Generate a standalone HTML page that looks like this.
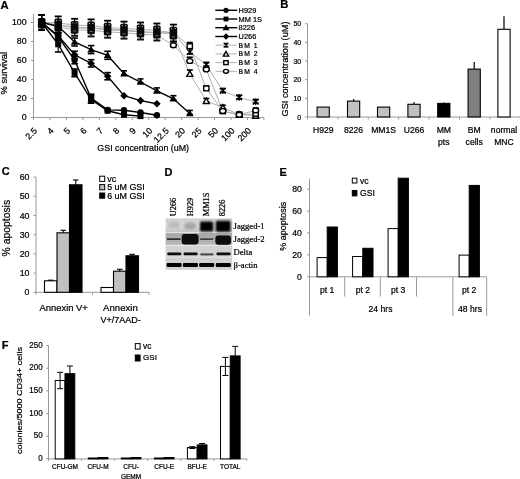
<!DOCTYPE html>
<html><head><meta charset="utf-8"><style>
html,body{margin:0;padding:0;background:#fff;}
svg{display:block;font-family:"Liberation Sans", sans-serif;filter:blur(0.35px);}
text{stroke:#000;stroke-width:0.22px;}
</style></head><body>
<svg width="520" height="479" viewBox="0 0 520 479">
<rect width="520" height="479" fill="#fff"/>
<text x="0.6" y="9.2" font-size="11.2" text-anchor="start" font-weight="bold" fill="#000" >A</text>
<line x1="33.5" y1="14" x2="33.5" y2="117.5" stroke="#999" stroke-width="1" />
<line x1="33.5" y1="117.5" x2="263.9" y2="117.5" stroke="#999" stroke-width="1" />
<line x1="31.0" y1="117.5" x2="33.5" y2="117.5" stroke="#999" stroke-width="1" />
<text x="26.6" y="120.0" font-size="8.8" text-anchor="end" font-weight="normal" fill="#000" >0</text>
<line x1="31.0" y1="98.5" x2="33.5" y2="98.5" stroke="#999" stroke-width="1" />
<text x="26.6" y="101.0" font-size="8.8" text-anchor="end" font-weight="normal" fill="#000" >20</text>
<line x1="31.0" y1="79.5" x2="33.5" y2="79.5" stroke="#999" stroke-width="1" />
<text x="26.6" y="82.0" font-size="8.8" text-anchor="end" font-weight="normal" fill="#000" >40</text>
<line x1="31.0" y1="60.5" x2="33.5" y2="60.5" stroke="#999" stroke-width="1" />
<text x="26.6" y="63.0" font-size="8.8" text-anchor="end" font-weight="normal" fill="#000" >60</text>
<line x1="31.0" y1="41.5" x2="33.5" y2="41.5" stroke="#999" stroke-width="1" />
<text x="26.6" y="44.0" font-size="8.8" text-anchor="end" font-weight="normal" fill="#000" >80</text>
<line x1="31.0" y1="22.5" x2="33.5" y2="22.5" stroke="#999" stroke-width="1" />
<text x="26.6" y="25.0" font-size="8.8" text-anchor="end" font-weight="normal" fill="#000" >100</text>
<line x1="33.5" y1="117.5" x2="33.5" y2="120.0" stroke="#999" stroke-width="1" />
<line x1="49.957142857142856" y1="117.5" x2="49.957142857142856" y2="120.0" stroke="#999" stroke-width="1" />
<line x1="66.41428571428571" y1="117.5" x2="66.41428571428571" y2="120.0" stroke="#999" stroke-width="1" />
<line x1="82.87142857142857" y1="117.5" x2="82.87142857142857" y2="120.0" stroke="#999" stroke-width="1" />
<line x1="99.32857142857142" y1="117.5" x2="99.32857142857142" y2="120.0" stroke="#999" stroke-width="1" />
<line x1="115.78571428571428" y1="117.5" x2="115.78571428571428" y2="120.0" stroke="#999" stroke-width="1" />
<line x1="132.24285714285713" y1="117.5" x2="132.24285714285713" y2="120.0" stroke="#999" stroke-width="1" />
<line x1="148.7" y1="117.5" x2="148.7" y2="120.0" stroke="#999" stroke-width="1" />
<line x1="165.15714285714284" y1="117.5" x2="165.15714285714284" y2="120.0" stroke="#999" stroke-width="1" />
<line x1="181.6142857142857" y1="117.5" x2="181.6142857142857" y2="120.0" stroke="#999" stroke-width="1" />
<line x1="198.07142857142856" y1="117.5" x2="198.07142857142856" y2="120.0" stroke="#999" stroke-width="1" />
<line x1="214.5285714285714" y1="117.5" x2="214.5285714285714" y2="120.0" stroke="#999" stroke-width="1" />
<line x1="230.98571428571427" y1="117.5" x2="230.98571428571427" y2="120.0" stroke="#999" stroke-width="1" />
<line x1="247.44285714285712" y1="117.5" x2="247.44285714285712" y2="120.0" stroke="#999" stroke-width="1" />
<line x1="263.9" y1="117.5" x2="263.9" y2="120.0" stroke="#999" stroke-width="1" />
<text x="0" y="0" font-size="8.8" text-anchor="end" transform="translate(37.7,131.4) rotate(-45)">2.5</text>
<text x="0" y="0" font-size="8.8" text-anchor="end" transform="translate(54.2,131.4) rotate(-45)">4</text>
<text x="0" y="0" font-size="8.8" text-anchor="end" transform="translate(70.6,131.4) rotate(-45)">5</text>
<text x="0" y="0" font-size="8.8" text-anchor="end" transform="translate(87.1,131.4) rotate(-45)">6</text>
<text x="0" y="0" font-size="8.8" text-anchor="end" transform="translate(103.6,131.4) rotate(-45)">7</text>
<text x="0" y="0" font-size="8.8" text-anchor="end" transform="translate(120.0,131.4) rotate(-45)">8</text>
<text x="0" y="0" font-size="8.8" text-anchor="end" transform="translate(136.5,131.4) rotate(-45)">9</text>
<text x="0" y="0" font-size="8.8" text-anchor="end" transform="translate(152.9,131.4) rotate(-45)">10</text>
<text x="0" y="0" font-size="8.8" text-anchor="end" transform="translate(169.4,131.4) rotate(-45)">12.5</text>
<text x="0" y="0" font-size="8.8" text-anchor="end" transform="translate(185.8,131.4) rotate(-45)">20</text>
<text x="0" y="0" font-size="8.8" text-anchor="end" transform="translate(202.3,131.4) rotate(-45)">25</text>
<text x="0" y="0" font-size="8.8" text-anchor="end" transform="translate(218.8,131.4) rotate(-45)">50</text>
<text x="0" y="0" font-size="8.8" text-anchor="end" transform="translate(235.2,131.4) rotate(-45)">100</text>
<text x="0" y="0" font-size="8.8" text-anchor="end" transform="translate(251.7,131.4) rotate(-45)">200</text>
<text x="143.2" y="151.2" font-size="8.9" text-anchor="middle" font-weight="normal" fill="#000" >GSI concentration (uM)</text>
<text x="0" y="0" font-size="9.4" text-anchor="middle" transform="translate(7.0,73.2) rotate(-90)">% survival</text>
<polyline points="41.7,22.5 58.2,22.8 74.6,25.2 91.1,25.6 107.6,27.6 124.0,28.5 140.5,29.4 156.9,30.4 173.4,33.0 189.8,52.0 206.3,64.8 222.8,90.9 239.2,97.5 255.7,101.8" fill="none" stroke="#b0b0b0" stroke-width="1.0"/>
<polyline points="41.7,22.5 58.2,24.8 74.6,27.2 91.1,27.7 107.6,29.1 124.0,30.1 140.5,31.5 156.9,32.5 173.4,33.9 189.8,73.8 206.3,100.9 222.8,107.5 239.2,114.7 255.7,115.6" fill="none" stroke="#b0b0b0" stroke-width="1.0"/>
<polyline points="41.7,22.5 58.2,25.0 74.6,27.9 91.1,28.3 107.6,29.8 124.0,30.7 140.5,32.1 156.9,33.1 173.4,32.5 189.8,46.2 206.3,88.4 222.8,111.3 239.2,114.9 255.7,113.7" fill="none" stroke="#b0b0b0" stroke-width="1.0"/>
<polyline points="41.7,22.5 58.2,27.0 74.6,29.9 91.1,30.4 107.6,31.8 124.0,32.8 140.5,34.2 156.9,35.1 173.4,45.3 189.8,61.0 206.3,69.5 222.8,111.0 239.2,114.7 255.7,110.4" fill="none" stroke="#b0b0b0" stroke-width="1.0"/>
<line x1="58.2" y1="16.4" x2="58.2" y2="33.4" stroke="#000" stroke-width="1.3" />
<line x1="54.7" y1="16.4" x2="61.7" y2="16.4" stroke="#000" stroke-width="1.8" />
<line x1="54.7" y1="33.4" x2="61.7" y2="33.4" stroke="#111" stroke-width="2.0" />
<rect x="54.4" y="18.5" width="7.6" height="12.8" fill="#0a0a0a" stroke="none" stroke-width="1" rx="1.5"/>
<rect x="55.9" y="20.0" width="1.1" height="1.0" fill="#bbb" stroke="none" stroke-width="1" />
<rect x="59.4" y="20.0" width="1.1" height="1.0" fill="#bbb" stroke="none" stroke-width="1" />
<rect x="56.7" y="28.3" width="3.0" height="0.8" fill="#888" stroke="none" stroke-width="1" />
<line x1="74.6" y1="18.8" x2="74.6" y2="35.8" stroke="#000" stroke-width="1.3" />
<line x1="71.1" y1="18.8" x2="78.1" y2="18.8" stroke="#000" stroke-width="1.8" />
<line x1="71.1" y1="35.8" x2="78.1" y2="35.8" stroke="#111" stroke-width="2.0" />
<rect x="70.8" y="20.9" width="7.6" height="12.8" fill="#0a0a0a" stroke="none" stroke-width="1" rx="1.5"/>
<rect x="72.3" y="22.4" width="1.1" height="1.0" fill="#bbb" stroke="none" stroke-width="1" />
<rect x="75.8" y="22.4" width="1.1" height="1.0" fill="#bbb" stroke="none" stroke-width="1" />
<rect x="73.1" y="30.6" width="3.0" height="0.8" fill="#888" stroke="none" stroke-width="1" />
<line x1="91.1" y1="19.4" x2="91.1" y2="36.4" stroke="#000" stroke-width="1.3" />
<line x1="87.6" y1="19.4" x2="94.6" y2="19.4" stroke="#000" stroke-width="1.8" />
<line x1="87.6" y1="36.4" x2="94.6" y2="36.4" stroke="#111" stroke-width="2.0" />
<rect x="87.3" y="21.5" width="7.6" height="12.8" fill="#0a0a0a" stroke="none" stroke-width="1" rx="1.5"/>
<rect x="88.8" y="23.0" width="1.1" height="1.0" fill="#bbb" stroke="none" stroke-width="1" />
<rect x="92.3" y="23.0" width="1.1" height="1.0" fill="#bbb" stroke="none" stroke-width="1" />
<rect x="89.6" y="31.3" width="3.0" height="0.8" fill="#888" stroke="none" stroke-width="1" />
<line x1="107.6" y1="20.7" x2="107.6" y2="37.7" stroke="#000" stroke-width="1.3" />
<line x1="104.1" y1="20.7" x2="111.1" y2="20.7" stroke="#000" stroke-width="1.8" />
<line x1="104.1" y1="37.7" x2="111.1" y2="37.7" stroke="#111" stroke-width="2.0" />
<rect x="103.8" y="22.8" width="7.6" height="12.8" fill="#0a0a0a" stroke="none" stroke-width="1" rx="1.5"/>
<rect x="105.3" y="24.3" width="1.1" height="1.0" fill="#bbb" stroke="none" stroke-width="1" />
<rect x="108.8" y="24.3" width="1.1" height="1.0" fill="#bbb" stroke="none" stroke-width="1" />
<rect x="106.1" y="32.6" width="3.0" height="0.8" fill="#888" stroke="none" stroke-width="1" />
<line x1="124.0" y1="21.6" x2="124.0" y2="38.6" stroke="#000" stroke-width="1.3" />
<line x1="120.5" y1="21.6" x2="127.5" y2="21.6" stroke="#000" stroke-width="1.8" />
<line x1="120.5" y1="38.6" x2="127.5" y2="38.6" stroke="#111" stroke-width="2.0" />
<rect x="120.2" y="23.7" width="7.6" height="12.8" fill="#0a0a0a" stroke="none" stroke-width="1" rx="1.5"/>
<rect x="121.7" y="25.2" width="1.1" height="1.0" fill="#bbb" stroke="none" stroke-width="1" />
<rect x="125.2" y="25.2" width="1.1" height="1.0" fill="#bbb" stroke="none" stroke-width="1" />
<rect x="122.5" y="33.5" width="3.0" height="0.8" fill="#888" stroke="none" stroke-width="1" />
<line x1="140.5" y1="22.5" x2="140.5" y2="39.5" stroke="#000" stroke-width="1.3" />
<line x1="137.0" y1="22.5" x2="144.0" y2="22.5" stroke="#000" stroke-width="1.8" />
<line x1="137.0" y1="39.5" x2="144.0" y2="39.5" stroke="#111" stroke-width="2.0" />
<rect x="136.7" y="24.6" width="7.6" height="12.8" fill="#0a0a0a" stroke="none" stroke-width="1" rx="1.5"/>
<rect x="138.2" y="26.1" width="1.1" height="1.0" fill="#bbb" stroke="none" stroke-width="1" />
<rect x="141.7" y="26.1" width="1.1" height="1.0" fill="#bbb" stroke="none" stroke-width="1" />
<rect x="139.0" y="34.4" width="3.0" height="0.8" fill="#888" stroke="none" stroke-width="1" />
<line x1="156.9" y1="23.5" x2="156.9" y2="40.5" stroke="#000" stroke-width="1.3" />
<line x1="153.4" y1="23.5" x2="160.4" y2="23.5" stroke="#000" stroke-width="1.8" />
<line x1="153.4" y1="40.5" x2="160.4" y2="40.5" stroke="#111" stroke-width="2.0" />
<rect x="153.1" y="25.6" width="7.6" height="12.8" fill="#0a0a0a" stroke="none" stroke-width="1" rx="1.5"/>
<rect x="154.6" y="27.1" width="1.1" height="1.0" fill="#bbb" stroke="none" stroke-width="1" />
<rect x="158.1" y="27.1" width="1.1" height="1.0" fill="#bbb" stroke="none" stroke-width="1" />
<rect x="155.4" y="35.4" width="3.0" height="0.8" fill="#888" stroke="none" stroke-width="1" />
<line x1="173.4" y1="24.6" x2="173.4" y2="41.6" stroke="#000" stroke-width="1.3" />
<line x1="169.9" y1="24.6" x2="176.9" y2="24.6" stroke="#000" stroke-width="1.8" />
<line x1="169.9" y1="41.6" x2="176.9" y2="41.6" stroke="#111" stroke-width="2.0" />
<rect x="169.6" y="26.7" width="7.6" height="12.8" fill="#0a0a0a" stroke="none" stroke-width="1" rx="1.5"/>
<rect x="171.1" y="28.2" width="1.1" height="1.0" fill="#bbb" stroke="none" stroke-width="1" />
<rect x="174.6" y="28.2" width="1.1" height="1.0" fill="#bbb" stroke="none" stroke-width="1" />
<rect x="171.9" y="36.5" width="3.0" height="0.8" fill="#888" stroke="none" stroke-width="1" />
<line x1="189.8" y1="48.2" x2="189.8" y2="53.9" stroke="#000" stroke-width="1.1" />
<line x1="186.8" y1="48.2" x2="192.8" y2="48.2" stroke="#000" stroke-width="1.6" />
<line x1="186.8" y1="53.9" x2="192.8" y2="53.9" stroke="#000" stroke-width="1.6" />
<line x1="206.3" y1="62.4" x2="206.3" y2="66.0" stroke="#000" stroke-width="1.1" />
<line x1="203.3" y1="62.4" x2="209.3" y2="62.4" stroke="#000" stroke-width="1.6" />
<line x1="203.3" y1="66.0" x2="209.3" y2="66.0" stroke="#000" stroke-width="1.6" />
<line x1="222.8" y1="88.5" x2="222.8" y2="92.1" stroke="#000" stroke-width="1.1" />
<line x1="219.8" y1="88.5" x2="225.8" y2="88.5" stroke="#000" stroke-width="1.6" />
<line x1="219.8" y1="92.1" x2="225.8" y2="92.1" stroke="#000" stroke-width="1.6" />
<line x1="239.2" y1="95.2" x2="239.2" y2="98.7" stroke="#000" stroke-width="1.1" />
<line x1="236.2" y1="95.2" x2="242.2" y2="95.2" stroke="#000" stroke-width="1.6" />
<line x1="236.2" y1="98.7" x2="242.2" y2="98.7" stroke="#000" stroke-width="1.6" />
<line x1="255.7" y1="99.5" x2="255.7" y2="103.0" stroke="#000" stroke-width="1.1" />
<line x1="252.7" y1="99.5" x2="258.7" y2="99.5" stroke="#000" stroke-width="1.6" />
<line x1="252.7" y1="103.0" x2="258.7" y2="103.0" stroke="#000" stroke-width="1.6" />
<line x1="189.8" y1="70.0" x2="189.8" y2="75.7" stroke="#000" stroke-width="1.1" />
<line x1="186.8" y1="70.0" x2="192.8" y2="70.0" stroke="#000" stroke-width="1.6" />
<line x1="186.8" y1="75.7" x2="192.8" y2="75.7" stroke="#000" stroke-width="1.6" />
<line x1="206.3" y1="98.5" x2="206.3" y2="102.1" stroke="#000" stroke-width="1.1" />
<line x1="203.3" y1="98.5" x2="209.3" y2="98.5" stroke="#000" stroke-width="1.6" />
<line x1="203.3" y1="102.1" x2="209.3" y2="102.1" stroke="#000" stroke-width="1.6" />
<line x1="222.8" y1="105.2" x2="222.8" y2="108.7" stroke="#000" stroke-width="1.1" />
<line x1="219.8" y1="105.2" x2="225.8" y2="105.2" stroke="#000" stroke-width="1.6" />
<line x1="219.8" y1="108.7" x2="225.8" y2="108.7" stroke="#000" stroke-width="1.6" />
<line x1="239.2" y1="112.3" x2="239.2" y2="115.8" stroke="#000" stroke-width="1.1" />
<line x1="236.2" y1="112.3" x2="242.2" y2="112.3" stroke="#000" stroke-width="1.6" />
<line x1="236.2" y1="115.8" x2="242.2" y2="115.8" stroke="#000" stroke-width="1.6" />
<line x1="255.7" y1="113.2" x2="255.7" y2="116.8" stroke="#000" stroke-width="1.1" />
<line x1="252.7" y1="113.2" x2="258.7" y2="113.2" stroke="#000" stroke-width="1.6" />
<line x1="252.7" y1="116.8" x2="258.7" y2="116.8" stroke="#000" stroke-width="1.6" />
<line x1="189.8" y1="42.5" x2="189.8" y2="48.2" stroke="#000" stroke-width="1.1" />
<line x1="186.8" y1="42.5" x2="192.8" y2="42.5" stroke="#000" stroke-width="1.6" />
<line x1="186.8" y1="48.2" x2="192.8" y2="48.2" stroke="#000" stroke-width="1.6" />
<line x1="206.3" y1="86.1" x2="206.3" y2="89.6" stroke="#000" stroke-width="1.1" />
<line x1="203.3" y1="86.1" x2="209.3" y2="86.1" stroke="#000" stroke-width="1.6" />
<line x1="203.3" y1="89.6" x2="209.3" y2="89.6" stroke="#000" stroke-width="1.6" />
<line x1="222.8" y1="109.0" x2="222.8" y2="112.5" stroke="#000" stroke-width="1.1" />
<line x1="219.8" y1="109.0" x2="225.8" y2="109.0" stroke="#000" stroke-width="1.6" />
<line x1="219.8" y1="112.5" x2="225.8" y2="112.5" stroke="#000" stroke-width="1.6" />
<line x1="239.2" y1="112.6" x2="239.2" y2="116.1" stroke="#000" stroke-width="1.1" />
<line x1="236.2" y1="112.6" x2="242.2" y2="112.6" stroke="#000" stroke-width="1.6" />
<line x1="236.2" y1="116.1" x2="242.2" y2="116.1" stroke="#000" stroke-width="1.6" />
<line x1="255.7" y1="111.3" x2="255.7" y2="114.9" stroke="#000" stroke-width="1.1" />
<line x1="252.7" y1="111.3" x2="258.7" y2="111.3" stroke="#000" stroke-width="1.6" />
<line x1="252.7" y1="114.9" x2="258.7" y2="114.9" stroke="#000" stroke-width="1.6" />
<line x1="173.4" y1="41.5" x2="173.4" y2="47.2" stroke="#000" stroke-width="1.1" />
<line x1="170.4" y1="41.5" x2="176.4" y2="41.5" stroke="#000" stroke-width="1.6" />
<line x1="170.4" y1="47.2" x2="176.4" y2="47.2" stroke="#000" stroke-width="1.6" />
<line x1="189.8" y1="57.2" x2="189.8" y2="62.9" stroke="#000" stroke-width="1.1" />
<line x1="186.8" y1="57.2" x2="192.8" y2="57.2" stroke="#000" stroke-width="1.6" />
<line x1="186.8" y1="62.9" x2="192.8" y2="62.9" stroke="#000" stroke-width="1.6" />
<line x1="206.3" y1="67.2" x2="206.3" y2="70.7" stroke="#000" stroke-width="1.1" />
<line x1="203.3" y1="67.2" x2="209.3" y2="67.2" stroke="#000" stroke-width="1.6" />
<line x1="203.3" y1="70.7" x2="209.3" y2="70.7" stroke="#000" stroke-width="1.6" />
<line x1="222.8" y1="108.7" x2="222.8" y2="112.2" stroke="#000" stroke-width="1.1" />
<line x1="219.8" y1="108.7" x2="225.8" y2="108.7" stroke="#000" stroke-width="1.6" />
<line x1="219.8" y1="112.2" x2="225.8" y2="112.2" stroke="#000" stroke-width="1.6" />
<line x1="239.2" y1="112.3" x2="239.2" y2="115.8" stroke="#000" stroke-width="1.1" />
<line x1="236.2" y1="112.3" x2="242.2" y2="112.3" stroke="#000" stroke-width="1.6" />
<line x1="236.2" y1="115.8" x2="242.2" y2="115.8" stroke="#000" stroke-width="1.6" />
<line x1="255.7" y1="108.0" x2="255.7" y2="111.6" stroke="#000" stroke-width="1.1" />
<line x1="252.7" y1="108.0" x2="258.7" y2="108.0" stroke="#000" stroke-width="1.6" />
<line x1="252.7" y1="111.6" x2="258.7" y2="111.6" stroke="#000" stroke-width="1.6" />
<path d="M187.0,49.2L192.6,54.8M192.6,49.2L187.0,54.8M189.8,48.8L189.8,55.1" stroke="#000" stroke-width="1.3" fill="none"/>
<path d="M203.5,62.0L209.1,67.6M209.1,62.0L203.5,67.6M206.3,61.6L206.3,68.0" stroke="#000" stroke-width="1.3" fill="none"/>
<path d="M220.0,88.1L225.6,93.7M225.6,88.1L220.0,93.7M222.8,87.7L222.8,94.1" stroke="#000" stroke-width="1.3" fill="none"/>
<path d="M236.4,94.8L242.0,100.3M242.0,94.8L236.4,100.3M239.2,94.3L239.2,100.8" stroke="#000" stroke-width="1.3" fill="none"/>
<path d="M252.9,99.0L258.5,104.6M258.5,99.0L252.9,104.6M255.7,98.6L255.7,105.0" stroke="#000" stroke-width="1.3" fill="none"/>
<polygon points="189.8,70.9 192.8,76.4 186.8,76.4" fill="#fff" stroke="#000" stroke-width="1.4"/>
<polygon points="206.3,98.0 209.3,103.5 203.3,103.5" fill="#fff" stroke="#000" stroke-width="1.4"/>
<polygon points="222.8,104.6 225.8,110.1 219.8,110.1" fill="#fff" stroke="#000" stroke-width="1.4"/>
<polygon points="239.2,111.8 242.2,117.3 236.2,117.3" fill="#fff" stroke="#000" stroke-width="1.4"/>
<polygon points="255.7,112.7 258.7,118.2 252.7,118.2" fill="#fff" stroke="#000" stroke-width="1.4"/>
<rect x="187.2" y="43.8" width="5.2" height="4.800000000000001" fill="#fff" stroke="#000" stroke-width="1.4" />
<rect x="203.7" y="86.0" width="5.2" height="4.800000000000001" fill="#fff" stroke="#000" stroke-width="1.4" />
<rect x="220.2" y="108.9" width="5.2" height="4.800000000000001" fill="#fff" stroke="#000" stroke-width="1.4" />
<rect x="236.6" y="112.5" width="5.2" height="4.800000000000001" fill="#fff" stroke="#000" stroke-width="1.4" />
<rect x="253.1" y="111.3" width="5.2" height="4.800000000000001" fill="#fff" stroke="#000" stroke-width="1.4" />
<ellipse cx="173.4" cy="45.3" rx="3.0" ry="2.4" fill="#fff" stroke="#000" stroke-width="1.4"/>
<ellipse cx="189.8" cy="61.0" rx="3.0" ry="2.4" fill="#fff" stroke="#000" stroke-width="1.4"/>
<ellipse cx="206.3" cy="69.5" rx="3.0" ry="2.4" fill="#fff" stroke="#000" stroke-width="1.4"/>
<ellipse cx="222.8" cy="111.0" rx="3.0" ry="2.4" fill="#fff" stroke="#000" stroke-width="1.4"/>
<ellipse cx="239.2" cy="114.7" rx="3.0" ry="2.4" fill="#fff" stroke="#000" stroke-width="1.4"/>
<ellipse cx="255.7" cy="110.4" rx="3.0" ry="2.4" fill="#fff" stroke="#000" stroke-width="1.4"/>
<polyline points="41.7,22.5 58.2,36.8 74.6,60.0 91.1,98.0 107.6,109.9 124.0,110.2 140.5,112.5 156.9,115.3" fill="none" stroke="#000" stroke-width="1.4"/>
<polyline points="41.7,22.5 58.2,44.3 74.6,72.8 91.1,99.5 107.6,110.8 124.0,114.8 140.5,116.1" fill="none" stroke="#000" stroke-width="1.4"/>
<polyline points="41.7,22.5 58.2,26.3 74.6,42.0 91.1,49.6 107.6,55.3 124.0,73.8 140.5,82.0 156.9,90.9 173.4,98.8 189.8,113.4" fill="none" stroke="#000" stroke-width="1.4"/>
<polyline points="41.7,22.5 58.2,35.8 74.6,54.8 91.1,63.4 107.6,76.2 124.0,95.7 140.5,100.6 156.9,103.8" fill="none" stroke="#000" stroke-width="1.4"/>
<line x1="41.7" y1="14.9" x2="41.7" y2="30.1" stroke="#000" stroke-width="1.1" />
<line x1="38.4" y1="14.9" x2="45.0" y2="14.9" stroke="#000" stroke-width="1.6" />
<line x1="38.4" y1="30.1" x2="45.0" y2="30.1" stroke="#000" stroke-width="1.6" />
<line x1="58.2" y1="33.0" x2="58.2" y2="40.5" stroke="#000" stroke-width="1.1" />
<line x1="54.9" y1="33.0" x2="61.5" y2="33.0" stroke="#000" stroke-width="1.6" />
<line x1="54.9" y1="40.5" x2="61.5" y2="40.5" stroke="#000" stroke-width="1.6" />
<line x1="74.6" y1="56.2" x2="74.6" y2="63.8" stroke="#000" stroke-width="1.1" />
<line x1="71.3" y1="56.2" x2="77.9" y2="56.2" stroke="#000" stroke-width="1.6" />
<line x1="71.3" y1="63.8" x2="77.9" y2="63.8" stroke="#000" stroke-width="1.6" />
<line x1="91.1" y1="94.2" x2="91.1" y2="101.8" stroke="#000" stroke-width="1.1" />
<line x1="87.8" y1="94.2" x2="94.4" y2="94.2" stroke="#000" stroke-width="1.6" />
<line x1="87.8" y1="101.8" x2="94.4" y2="101.8" stroke="#000" stroke-width="1.6" />
<circle cx="41.7" cy="22.5" r="3.2" fill="#000"/>
<circle cx="58.2" cy="36.8" r="3.2" fill="#000"/>
<circle cx="74.6" cy="60.0" r="3.2" fill="#000"/>
<circle cx="91.1" cy="98.0" r="3.2" fill="#000"/>
<circle cx="107.6" cy="109.9" r="3.2" fill="#000"/>
<circle cx="124.0" cy="110.2" r="3.2" fill="#000"/>
<circle cx="140.5" cy="112.5" r="3.2" fill="#000"/>
<circle cx="156.9" cy="115.3" r="3.2" fill="#000"/>
<line x1="41.7" y1="14.9" x2="41.7" y2="30.1" stroke="#000" stroke-width="1.1" />
<line x1="38.4" y1="14.9" x2="45.0" y2="14.9" stroke="#000" stroke-width="1.6" />
<line x1="38.4" y1="30.1" x2="45.0" y2="30.1" stroke="#000" stroke-width="1.6" />
<line x1="58.2" y1="38.7" x2="58.2" y2="52.0" stroke="#000" stroke-width="1.1" />
<line x1="54.9" y1="38.7" x2="61.5" y2="38.7" stroke="#000" stroke-width="1.6" />
<line x1="54.9" y1="52.0" x2="61.5" y2="52.0" stroke="#000" stroke-width="1.6" />
<line x1="74.6" y1="69.0" x2="74.6" y2="76.7" stroke="#000" stroke-width="1.1" />
<line x1="71.3" y1="69.0" x2="77.9" y2="69.0" stroke="#000" stroke-width="1.6" />
<line x1="71.3" y1="76.7" x2="77.9" y2="76.7" stroke="#000" stroke-width="1.6" />
<line x1="91.1" y1="95.7" x2="91.1" y2="103.2" stroke="#000" stroke-width="1.1" />
<line x1="87.8" y1="95.7" x2="94.4" y2="95.7" stroke="#000" stroke-width="1.6" />
<line x1="87.8" y1="103.2" x2="94.4" y2="103.2" stroke="#000" stroke-width="1.6" />
<rect x="38.7" y="19.5" width="6.0" height="6.0" fill="#000" stroke="none" stroke-width="1" />
<rect x="55.2" y="41.3" width="6.0" height="6.0" fill="#000" stroke="none" stroke-width="1" />
<rect x="71.6" y="69.8" width="6.0" height="6.0" fill="#000" stroke="none" stroke-width="1" />
<rect x="88.1" y="96.5" width="6.0" height="6.0" fill="#000" stroke="none" stroke-width="1" />
<rect x="104.6" y="107.8" width="6.0" height="6.0" fill="#000" stroke="none" stroke-width="1" />
<rect x="121.0" y="111.8" width="6.0" height="6.0" fill="#000" stroke="none" stroke-width="1" />
<rect x="137.5" y="113.1" width="6.0" height="6.0" fill="#000" stroke="none" stroke-width="1" />
<line x1="41.7" y1="14.9" x2="41.7" y2="30.1" stroke="#000" stroke-width="1.1" />
<line x1="38.4" y1="14.9" x2="45.0" y2="14.9" stroke="#000" stroke-width="1.6" />
<line x1="38.4" y1="30.1" x2="45.0" y2="30.1" stroke="#000" stroke-width="1.6" />
<line x1="58.2" y1="22.3" x2="58.2" y2="30.3" stroke="#000" stroke-width="1.1" />
<line x1="54.9" y1="22.3" x2="61.5" y2="22.3" stroke="#000" stroke-width="1.6" />
<line x1="54.9" y1="30.3" x2="61.5" y2="30.3" stroke="#000" stroke-width="1.6" />
<line x1="74.6" y1="38.0" x2="74.6" y2="46.0" stroke="#000" stroke-width="1.1" />
<line x1="71.3" y1="38.0" x2="77.9" y2="38.0" stroke="#000" stroke-width="1.6" />
<line x1="71.3" y1="46.0" x2="77.9" y2="46.0" stroke="#000" stroke-width="1.6" />
<line x1="91.1" y1="45.6" x2="91.1" y2="53.6" stroke="#000" stroke-width="1.1" />
<line x1="87.8" y1="45.6" x2="94.4" y2="45.6" stroke="#000" stroke-width="1.6" />
<line x1="87.8" y1="53.6" x2="94.4" y2="53.6" stroke="#000" stroke-width="1.6" />
<line x1="107.6" y1="51.3" x2="107.6" y2="59.3" stroke="#000" stroke-width="1.1" />
<line x1="104.3" y1="51.3" x2="110.9" y2="51.3" stroke="#000" stroke-width="1.6" />
<line x1="104.3" y1="59.3" x2="110.9" y2="59.3" stroke="#000" stroke-width="1.6" />
<line x1="124.0" y1="70.8" x2="124.0" y2="74.8" stroke="#000" stroke-width="1.1" />
<line x1="121.0" y1="70.8" x2="127.0" y2="70.8" stroke="#000" stroke-width="1.6" />
<line x1="121.0" y1="74.8" x2="127.0" y2="74.8" stroke="#000" stroke-width="1.6" />
<line x1="140.5" y1="78.9" x2="140.5" y2="82.9" stroke="#000" stroke-width="1.1" />
<line x1="137.5" y1="78.9" x2="143.5" y2="78.9" stroke="#000" stroke-width="1.6" />
<line x1="137.5" y1="82.9" x2="143.5" y2="82.9" stroke="#000" stroke-width="1.6" />
<line x1="156.9" y1="87.9" x2="156.9" y2="91.8" stroke="#000" stroke-width="1.1" />
<line x1="153.9" y1="87.9" x2="159.9" y2="87.9" stroke="#000" stroke-width="1.6" />
<line x1="153.9" y1="91.8" x2="159.9" y2="91.8" stroke="#000" stroke-width="1.6" />
<line x1="173.4" y1="95.7" x2="173.4" y2="99.7" stroke="#000" stroke-width="1.1" />
<line x1="170.4" y1="95.7" x2="176.4" y2="95.7" stroke="#000" stroke-width="1.6" />
<line x1="170.4" y1="99.7" x2="176.4" y2="99.7" stroke="#000" stroke-width="1.6" />
<line x1="189.8" y1="110.4" x2="189.8" y2="114.4" stroke="#000" stroke-width="1.1" />
<line x1="186.8" y1="110.4" x2="192.8" y2="110.4" stroke="#000" stroke-width="1.6" />
<line x1="186.8" y1="114.4" x2="192.8" y2="114.4" stroke="#000" stroke-width="1.6" />
<polygon points="41.7,18.8 45.5,25.3 37.9,25.3" fill="#000"/>
<polygon points="58.2,22.6 62.0,29.1 54.4,29.1" fill="#000"/>
<polygon points="74.6,38.3 78.4,44.8 70.8,44.8" fill="#000"/>
<polygon points="91.1,45.9 94.9,52.4 87.3,52.4" fill="#000"/>
<polygon points="107.6,51.6 111.4,58.1 103.8,58.1" fill="#000"/>
<polygon points="124.0,70.1 127.8,76.6 120.2,76.6" fill="#000"/>
<polygon points="140.5,78.3 144.3,84.8 136.7,84.8" fill="#000"/>
<polygon points="156.9,87.2 160.7,93.7 153.1,93.7" fill="#000"/>
<polygon points="173.4,95.1 177.2,101.6 169.6,101.6" fill="#000"/>
<polygon points="189.8,109.7 193.6,116.2 186.0,116.2" fill="#000"/>
<line x1="41.7" y1="14.9" x2="41.7" y2="30.1" stroke="#000" stroke-width="1.1" />
<line x1="38.4" y1="14.9" x2="45.0" y2="14.9" stroke="#000" stroke-width="1.6" />
<line x1="38.4" y1="30.1" x2="45.0" y2="30.1" stroke="#000" stroke-width="1.6" />
<line x1="58.2" y1="32.2" x2="58.2" y2="39.4" stroke="#000" stroke-width="1.1" />
<line x1="54.9" y1="32.2" x2="61.5" y2="32.2" stroke="#000" stroke-width="1.6" />
<line x1="54.9" y1="39.4" x2="61.5" y2="39.4" stroke="#000" stroke-width="1.6" />
<line x1="74.6" y1="51.2" x2="74.6" y2="58.4" stroke="#000" stroke-width="1.1" />
<line x1="71.3" y1="51.2" x2="77.9" y2="51.2" stroke="#000" stroke-width="1.6" />
<line x1="71.3" y1="58.4" x2="77.9" y2="58.4" stroke="#000" stroke-width="1.6" />
<line x1="91.1" y1="59.7" x2="91.1" y2="67.0" stroke="#000" stroke-width="1.1" />
<line x1="87.8" y1="59.7" x2="94.4" y2="59.7" stroke="#000" stroke-width="1.6" />
<line x1="87.8" y1="67.0" x2="94.4" y2="67.0" stroke="#000" stroke-width="1.6" />
<line x1="107.6" y1="72.6" x2="107.6" y2="79.8" stroke="#000" stroke-width="1.1" />
<line x1="104.3" y1="72.6" x2="110.9" y2="72.6" stroke="#000" stroke-width="1.6" />
<line x1="104.3" y1="79.8" x2="110.9" y2="79.8" stroke="#000" stroke-width="1.6" />
<polygon points="41.7,18.7 45.5,22.5 41.7,26.3 37.9,22.5" fill="#000"/>
<polygon points="58.2,32.0 62.0,35.8 58.2,39.6 54.4,35.8" fill="#000"/>
<polygon points="74.6,51.0 78.4,54.8 74.6,58.6 70.8,54.8" fill="#000"/>
<polygon points="91.1,59.5 94.9,63.4 91.1,67.1 87.3,63.4" fill="#000"/>
<polygon points="107.6,72.4 111.4,76.2 107.6,80.0 103.8,76.2" fill="#000"/>
<polygon points="124.0,91.9 127.8,95.7 124.0,99.5 120.2,95.7" fill="#000"/>
<polygon points="140.5,96.8 144.3,100.6 140.5,104.4 136.7,100.6" fill="#000"/>
<polygon points="156.9,100.0 160.7,103.8 156.9,107.6 153.1,103.8" fill="#000"/>
<rect x="37.9" y="17.9" width="7.6" height="10.5" fill="#000" stroke="none" stroke-width="1" rx="1.5"/>
<line x1="215.3" y1="10.3" x2="237.3" y2="10.3" stroke="#000" stroke-width="1.4" />
<circle cx="226.0" cy="10.3" r="2.6" fill="#000"/>
<text x="238.6" y="13.0" font-size="7.4" text-anchor="start" font-weight="normal" fill="#000" >H929</text>
<line x1="215.3" y1="19.0" x2="237.3" y2="19.0" stroke="#000" stroke-width="1.4" />
<rect x="223.6" y="16.6" width="4.8" height="4.8" fill="#000" stroke="none" stroke-width="1" />
<text x="238.6" y="21.7" font-size="7.4" text-anchor="start" font-weight="normal" fill="#000" >MM 1S</text>
<line x1="215.3" y1="27.7" x2="237.3" y2="27.7" stroke="#000" stroke-width="1.4" />
<polygon points="226.0,24.3 229.5,30.2 222.5,30.2" fill="#000"/>
<text x="238.6" y="30.4" font-size="7.4" text-anchor="start" font-weight="normal" fill="#000" >8226</text>
<line x1="215.3" y1="36.5" x2="237.3" y2="36.5" stroke="#000" stroke-width="1.4" />
<polygon points="226.0,33.3 229.2,36.5 226.0,39.7 222.8,36.5" fill="#000"/>
<text x="238.6" y="39.2" font-size="7.4" text-anchor="start" font-weight="normal" fill="#000" >U266</text>
<line x1="215.5" y1="45.2" x2="236.8" y2="45.2" stroke="#a0a0a0" stroke-width="0.8" />
<path d="M223.7,42.8L228.3,47.5M228.3,42.8L223.7,47.5M226.0,42.4L226.0,47.9" stroke="#000" stroke-width="1.3" fill="none"/>
<text x="238.6" y="47.7" font-size="6.8" text-anchor="start" font-weight="normal" fill="#000" letter-spacing="1.0">BM 1</text>
<line x1="215.5" y1="53.9" x2="236.8" y2="53.9" stroke="#a0a0a0" stroke-width="0.8" />
<polygon points="226.0,51.5 228.6,56.1 223.4,56.1" fill="#fff" stroke="#000" stroke-width="1.4"/>
<text x="238.6" y="56.4" font-size="6.8" text-anchor="start" font-weight="normal" fill="#000" letter-spacing="1.0">BM 2</text>
<line x1="215.5" y1="62.6" x2="236.8" y2="62.6" stroke="#a0a0a0" stroke-width="0.8" />
<rect x="223.8" y="60.7" width="4.3" height="3.9" fill="#fff" stroke="#000" stroke-width="1.4" />
<text x="238.6" y="65.1" font-size="6.8" text-anchor="start" font-weight="normal" fill="#000" letter-spacing="1.0">BM 3</text>
<line x1="215.5" y1="71.3" x2="236.8" y2="71.3" stroke="#a0a0a0" stroke-width="0.8" />
<ellipse cx="226.0" cy="71.3" rx="2.5" ry="1.9" fill="#fff" stroke="#000" stroke-width="1.4"/>
<text x="238.6" y="73.8" font-size="6.8" text-anchor="start" font-weight="normal" fill="#000" letter-spacing="1.0">BM 4</text>
<text x="280.3" y="8.4" font-size="11.3" text-anchor="start" font-weight="bold" fill="#000" >B</text>
<line x1="307.5" y1="23.75" x2="307.5" y2="117.0" stroke="#999" stroke-width="1" />
<line x1="307.5" y1="117.0" x2="520" y2="117.0" stroke="#999" stroke-width="1" />
<line x1="305.0" y1="117.0" x2="307.5" y2="117.0" stroke="#999" stroke-width="1" />
<text x="301.2" y="119.5" font-size="7.0" text-anchor="end" font-weight="normal" fill="#000" >0</text>
<line x1="305.0" y1="98.35" x2="307.5" y2="98.35" stroke="#999" stroke-width="1" />
<text x="301.2" y="100.8" font-size="7.0" text-anchor="end" font-weight="normal" fill="#000" >10</text>
<line x1="305.0" y1="79.7" x2="307.5" y2="79.7" stroke="#999" stroke-width="1" />
<text x="301.2" y="82.2" font-size="7.0" text-anchor="end" font-weight="normal" fill="#000" >20</text>
<line x1="305.0" y1="61.05" x2="307.5" y2="61.05" stroke="#999" stroke-width="1" />
<text x="301.2" y="63.5" font-size="7.0" text-anchor="end" font-weight="normal" fill="#000" >30</text>
<line x1="305.0" y1="42.400000000000006" x2="307.5" y2="42.400000000000006" stroke="#999" stroke-width="1" />
<text x="301.2" y="44.9" font-size="7.0" text-anchor="end" font-weight="normal" fill="#000" >40</text>
<line x1="305.0" y1="23.75" x2="307.5" y2="23.75" stroke="#999" stroke-width="1" />
<text x="301.2" y="26.2" font-size="7.0" text-anchor="end" font-weight="normal" fill="#000" >50</text>
<line x1="307.5" y1="117.0" x2="307.5" y2="119.5" stroke="#999" stroke-width="1" />
<line x1="337.9" y1="117.0" x2="337.9" y2="119.5" stroke="#999" stroke-width="1" />
<line x1="368.3" y1="117.0" x2="368.3" y2="119.5" stroke="#999" stroke-width="1" />
<line x1="398.7" y1="117.0" x2="398.7" y2="119.5" stroke="#999" stroke-width="1" />
<line x1="429.1" y1="117.0" x2="429.1" y2="119.5" stroke="#999" stroke-width="1" />
<line x1="459.5" y1="117.0" x2="459.5" y2="119.5" stroke="#999" stroke-width="1" />
<line x1="489.9" y1="117.0" x2="489.9" y2="119.5" stroke="#999" stroke-width="1" />
<line x1="520.3" y1="117.0" x2="520.3" y2="119.5" stroke="#999" stroke-width="1" />
<text x="0" y="0" font-size="9.2" text-anchor="middle" transform="translate(287.6,69) rotate(-90)">GSI concentration (uM)</text>
<rect x="317.1" y="107.1" width="12.2" height="9.9" fill="#c2c2c2" stroke="#000" stroke-width="1.1" />
<line x1="353.6" y1="99.1" x2="353.6" y2="101.1" stroke="#000" stroke-width="1.2" />
<rect x="347.5" y="101.1" width="12.2" height="15.9" fill="#c2c2c2" stroke="#000" stroke-width="1.1" />
<rect x="377.5" y="107.1" width="12.2" height="9.9" fill="#c0c0c0" stroke="#000" stroke-width="1.1" />
<line x1="414.0" y1="102.1" x2="414.0" y2="104.3" stroke="#000" stroke-width="1.2" />
<rect x="407.9" y="104.3" width="12.2" height="12.7" fill="#c0c0c0" stroke="#000" stroke-width="1.1" />
<line x1="443.8" y1="102.5" x2="443.8" y2="103.4" stroke="#000" stroke-width="1.2" />
<rect x="437.7" y="103.4" width="12.2" height="13.6" fill="#000" stroke="#000" stroke-width="1.1" />
<line x1="474.2" y1="62.0" x2="474.2" y2="69.1" stroke="#000" stroke-width="1.2" />
<rect x="468.1" y="69.1" width="12.2" height="47.9" fill="#808080" stroke="#000" stroke-width="1.1" />
<line x1="504.0" y1="16.3" x2="504.0" y2="29.3" stroke="#000" stroke-width="1.2" />
<rect x="497.9" y="29.3" width="12.2" height="87.7" fill="#fff" stroke="#000" stroke-width="1.1" />
<text x="323.2" y="132.5" font-size="8.6" text-anchor="middle" font-weight="normal" fill="#000" >H929</text>
<text x="353.6" y="132.5" font-size="8.6" text-anchor="middle" font-weight="normal" fill="#000" >8226</text>
<text x="383.6" y="132.5" font-size="8.6" text-anchor="middle" font-weight="normal" fill="#000" >MM1S</text>
<text x="414.0" y="132.5" font-size="8.6" text-anchor="middle" font-weight="normal" fill="#000" >U266</text>
<text x="443.8" y="132.5" font-size="8.6" text-anchor="middle" font-weight="normal" fill="#000" >MM</text>
<text x="443.8" y="144.8" font-size="8.6" text-anchor="middle" font-weight="normal" fill="#000" >pts</text>
<text x="474.2" y="132.5" font-size="8.6" text-anchor="middle" font-weight="normal" fill="#000" >BM</text>
<text x="474.2" y="144.8" font-size="8.6" text-anchor="middle" font-weight="normal" fill="#000" >cells</text>
<text x="504.0" y="132.5" font-size="8.6" text-anchor="middle" font-weight="normal" fill="#000" >normal</text>
<text x="504.0" y="144.8" font-size="8.6" text-anchor="middle" font-weight="normal" fill="#000" >MNC</text>
<text x="1.8" y="175" font-size="11" text-anchor="start" font-weight="bold" fill="#000" >C</text>
<line x1="36.0" y1="177.1" x2="36.0" y2="292.3" stroke="#999" stroke-width="1" />
<line x1="36.0" y1="292.3" x2="149.0" y2="292.3" stroke="#999" stroke-width="1" />
<line x1="33.5" y1="292.3" x2="36.0" y2="292.3" stroke="#999" stroke-width="1" />
<text x="29.5" y="295.4" font-size="8.8" text-anchor="end" font-weight="normal" fill="#000" >0</text>
<line x1="33.5" y1="273.1" x2="36.0" y2="273.1" stroke="#999" stroke-width="1" />
<text x="29.5" y="276.2" font-size="8.8" text-anchor="end" font-weight="normal" fill="#000" >10</text>
<line x1="33.5" y1="253.9" x2="36.0" y2="253.9" stroke="#999" stroke-width="1" />
<text x="29.5" y="257.0" font-size="8.8" text-anchor="end" font-weight="normal" fill="#000" >20</text>
<line x1="33.5" y1="234.7" x2="36.0" y2="234.7" stroke="#999" stroke-width="1" />
<text x="29.5" y="237.8" font-size="8.8" text-anchor="end" font-weight="normal" fill="#000" >30</text>
<line x1="33.5" y1="215.5" x2="36.0" y2="215.5" stroke="#999" stroke-width="1" />
<text x="29.5" y="218.6" font-size="8.8" text-anchor="end" font-weight="normal" fill="#000" >40</text>
<line x1="33.5" y1="196.3" x2="36.0" y2="196.3" stroke="#999" stroke-width="1" />
<text x="29.5" y="199.4" font-size="8.8" text-anchor="end" font-weight="normal" fill="#000" >50</text>
<line x1="33.5" y1="177.1" x2="36.0" y2="177.1" stroke="#999" stroke-width="1" />
<text x="29.5" y="180.2" font-size="8.8" text-anchor="end" font-weight="normal" fill="#000" >60</text>
<line x1="36.0" y1="292.3" x2="36.0" y2="294.8" stroke="#999" stroke-width="1" />
<line x1="92.5" y1="292.3" x2="92.5" y2="294.8" stroke="#999" stroke-width="1" />
<line x1="149.0" y1="292.3" x2="149.0" y2="294.8" stroke="#999" stroke-width="1" />
<text x="0" y="0" font-size="10.4" text-anchor="middle" transform="translate(9.6,228.2) rotate(-90)">% apoptosis</text>
<line x1="50.8" y1="280.2" x2="50.8" y2="280.8" stroke="#000" stroke-width="1.1" />
<line x1="48.0" y1="280.2" x2="53.5" y2="280.2" stroke="#000" stroke-width="1.1" />
<rect x="44.5" y="280.8" width="12.5" height="11.5" fill="#fff" stroke="#000" stroke-width="1.1" />
<line x1="63.3" y1="230.3" x2="63.3" y2="232.8" stroke="#000" stroke-width="1.1" />
<line x1="60.5" y1="230.3" x2="66.0" y2="230.3" stroke="#000" stroke-width="1.1" />
<rect x="57.0" y="232.8" width="12.5" height="59.5" fill="#c0c0c0" stroke="#000" stroke-width="1.1" />
<line x1="75.8" y1="180.0" x2="75.8" y2="184.8" stroke="#000" stroke-width="1.1" />
<line x1="73.0" y1="180.0" x2="78.5" y2="180.0" stroke="#000" stroke-width="1.1" />
<rect x="69.5" y="184.8" width="12.5" height="107.5" fill="#000" stroke="#000" stroke-width="1.1" />
<rect x="101.0" y="287.5" width="12.5" height="4.8" fill="#fff" stroke="#000" stroke-width="1.1" />
<line x1="119.7" y1="269.3" x2="119.7" y2="271.2" stroke="#000" stroke-width="1.1" />
<line x1="117.0" y1="269.3" x2="122.5" y2="269.3" stroke="#000" stroke-width="1.1" />
<rect x="113.5" y="271.2" width="12.5" height="21.1" fill="#c0c0c0" stroke="#000" stroke-width="1.1" />
<line x1="132.2" y1="254.3" x2="132.2" y2="255.8" stroke="#000" stroke-width="1.1" />
<line x1="129.4" y1="254.3" x2="134.9" y2="254.3" stroke="#000" stroke-width="1.1" />
<rect x="126.0" y="255.8" width="12.5" height="36.5" fill="#000" stroke="#000" stroke-width="1.1" />
<text x="63.7" y="311.2" font-size="9.4" text-anchor="middle" font-weight="normal" fill="#000" >Annexin V+</text>
<text x="120.4" y="311.2" font-size="9.6" text-anchor="middle" font-weight="normal" fill="#000" >Annexin</text>
<text x="120.7" y="323.2" font-size="9.0" text-anchor="middle" font-weight="normal" fill="#000" >V+/7AAD-</text>
<rect x="99.7" y="176.2" width="5" height="5.2" fill="#fff" stroke="#000" stroke-width="1.0" />
<text x="107.2" y="181.8" font-size="8.9" text-anchor="start" font-weight="normal" fill="#000" >vc</text>
<rect x="99.7" y="184.6" width="5" height="5.2" fill="#c0c0c0" stroke="#000" stroke-width="1.0" />
<text x="107.2" y="190.2" font-size="8.9" text-anchor="start" font-weight="normal" fill="#000" >5 uM GSI</text>
<rect x="99.7" y="193.0" width="5" height="5.2" fill="#000" stroke="#000" stroke-width="1.0" />
<text x="107.2" y="198.6" font-size="8.9" text-anchor="start" font-weight="normal" fill="#000" >6 uM GSI</text>
<text x="164.6" y="176" font-size="11" text-anchor="start" font-weight="bold" fill="#000" >D</text>
<text x="0" y="0" font-size="8.4" font-family='"Liberation Serif", serif' stroke="#000" stroke-width="0.25" text-anchor="start" transform="translate(175.8,216.3) rotate(-90)">U266</text>
<text x="0" y="0" font-size="8.4" font-family='"Liberation Serif", serif' stroke="#000" stroke-width="0.25" text-anchor="start" transform="translate(192.7,216.3) rotate(-90)">H929</text>
<text x="0" y="0" font-size="8.4" font-family='"Liberation Serif", serif' stroke="#000" stroke-width="0.25" text-anchor="start" transform="translate(209.1,216.3) rotate(-90)">MM1S</text>
<text x="0" y="0" font-size="8.4" font-family='"Liberation Serif", serif' stroke="#000" stroke-width="0.25" text-anchor="start" transform="translate(225.4,216.3) rotate(-90)">8226</text>
<defs><filter id="bl" x="-50%" y="-50%" width="200%" height="200%"><feGaussianBlur stdDeviation="0.8"/></filter><filter id="bl2" x="-50%" y="-50%" width="200%" height="200%"><feGaussianBlur stdDeviation="0.55"/></filter><linearGradient id="g1" x1="0" y1="0" x2="0" y2="1"><stop offset="0" stop-color="#cfcfcf"/><stop offset="0.5" stop-color="#dadada"/><stop offset="1" stop-color="#c4c4c4"/></linearGradient><linearGradient id="g2" x1="0" y1="0" x2="0" y2="1"><stop offset="0" stop-color="#a4a4a4"/><stop offset="1" stop-color="#b8b8b8"/></linearGradient></defs>
<rect x="165.6" y="218.4" width="66.6" height="14.2" fill="url(#g1)" stroke="none" stroke-width="1" />
<rect x="165.6" y="232.8" width="66.6" height="12.3" fill="url(#g2)" stroke="none" stroke-width="1" />
<rect x="165.6" y="245.3" width="66.6" height="11.8" fill="#d2d2d2" stroke="none" stroke-width="1" />
<rect x="165.6" y="257.2" width="66.6" height="12.6" fill="#d0d0d0" stroke="none" stroke-width="1" />
<line x1="165.6" y1="232.7" x2="232.2" y2="232.7" stroke="#f0f0f0" stroke-width="0.7" />
<line x1="165.6" y1="245.2" x2="232.2" y2="245.2" stroke="#f0f0f0" stroke-width="0.7" />
<line x1="165.6" y1="257.1" x2="232.2" y2="257.1" stroke="#ececec" stroke-width="0.6" />
<g filter="url(#bl)">
<ellipse cx="174.0" cy="225" rx="6" ry="3.8" fill="#bdbdbd"/>
<ellipse cx="190.3" cy="226" rx="6.5" ry="3.8" fill="#a8a8a8"/>
<rect x="200.0" y="221.4" width="13.2" height="10" rx="1.5" fill="#000"/>
<rect x="215.79999999999998" y="220.8" width="14.8" height="11" rx="1.5" fill="#000"/>
</g>
<g filter="url(#bl2)">
<rect x="167.0" y="238.3" width="13.5" height="1.6" fill="#222"/>
<rect x="200.1" y="238.4" width="13" height="1.5" fill="#333"/>
<rect x="181.70000000000002" y="234" width="16.8" height="10.6" rx="3" fill="#080808"/>
<rect x="215.39999999999998" y="235.6" width="15.6" height="9.2" rx="3" fill="#080808"/>
<rect x="167.4" y="252.4" width="13.8" height="2.9" rx="0.8" fill="#0a0a0a"/>
<rect x="183.70000000000002" y="252.4" width="13.8" height="2.9" rx="0.8" fill="#0a0a0a"/>
<rect x="200.4" y="253.4" width="13" height="2.0" fill="#444"/>
<rect x="216.6" y="252.4" width="13.8" height="2.9" rx="0.8" fill="#0a0a0a"/>
<rect x="166.6" y="262.9" width="15" height="4.1" rx="1.2" fill="#050505"/>
<rect x="182.9" y="262.9" width="15" height="4.1" rx="1.2" fill="#050505"/>
<rect x="199.2" y="262.9" width="15" height="4.1" rx="1.2" fill="#050505"/>
<rect x="215.79999999999998" y="262.9" width="15" height="4.1" rx="1.2" fill="#050505"/>
</g>
<text x="233.6" y="228.6" font-size="8.6" font-family='"Liberation Serif", serif' stroke="#000" stroke-width="0.2">Jagged-1</text>
<text x="233.6" y="242.4" font-size="8.6" font-family='"Liberation Serif", serif' stroke="#000" stroke-width="0.2">Jagged-2</text>
<text x="233.6" y="255.4" font-size="8.6" font-family='"Liberation Serif", serif' stroke="#000" stroke-width="0.2">Delta</text>
<text x="233.6" y="268.3" font-size="8.6" font-family='"Liberation Serif", serif' stroke="#000" stroke-width="0.2">&#946;-actin</text>
<text x="279.6" y="176.4" font-size="11" text-anchor="start" font-weight="bold" fill="#000" >E</text>
<line x1="309.5" y1="178.7" x2="309.5" y2="315.5" stroke="#999" stroke-width="1" />
<line x1="309.5" y1="276.8" x2="486.7" y2="276.8" stroke="#999" stroke-width="1" />
<line x1="307.0" y1="276.8" x2="309.5" y2="276.8" stroke="#999" stroke-width="1" />
<text x="301.9" y="279.8" font-size="8.7" text-anchor="end" font-weight="normal" fill="#000" >0</text>
<line x1="307.0" y1="254.9" x2="309.5" y2="254.9" stroke="#999" stroke-width="1" />
<text x="301.9" y="257.9" font-size="8.7" text-anchor="end" font-weight="normal" fill="#000" >20</text>
<line x1="307.0" y1="233.0" x2="309.5" y2="233.0" stroke="#999" stroke-width="1" />
<text x="301.9" y="236.0" font-size="8.7" text-anchor="end" font-weight="normal" fill="#000" >40</text>
<line x1="307.0" y1="211.1" x2="309.5" y2="211.1" stroke="#999" stroke-width="1" />
<text x="301.9" y="214.1" font-size="8.7" text-anchor="end" font-weight="normal" fill="#000" >60</text>
<line x1="307.0" y1="189.2" x2="309.5" y2="189.2" stroke="#999" stroke-width="1" />
<text x="301.9" y="192.2" font-size="8.7" text-anchor="end" font-weight="normal" fill="#000" >80</text>
<line x1="344.7" y1="276.8" x2="344.7" y2="296.5" stroke="#999" stroke-width="1" />
<line x1="380.3" y1="276.8" x2="380.3" y2="296.5" stroke="#999" stroke-width="1" />
<line x1="416.5" y1="276.8" x2="416.5" y2="296.5" stroke="#999" stroke-width="1" />
<line x1="452.9" y1="276.8" x2="452.9" y2="316" stroke="#999" stroke-width="1" />
<line x1="486.7" y1="276.8" x2="486.7" y2="316" stroke="#999" stroke-width="1" />
<text x="0" y="0" font-size="9" text-anchor="middle" transform="translate(286.2,226.3) rotate(-90)">% apoptosis</text>
<rect x="317.1" y="257.6" width="10.2" height="19.2" fill="#fff" stroke="#000" stroke-width="1.0" />
<rect x="327.2" y="227.0" width="10.2" height="49.8" fill="#000" stroke="#000" stroke-width="1.0" />
<rect x="352.6" y="256.5" width="10.2" height="20.3" fill="#fff" stroke="#000" stroke-width="1.0" />
<rect x="362.8" y="248.3" width="10.2" height="28.5" fill="#000" stroke="#000" stroke-width="1.0" />
<rect x="388.1" y="228.6" width="10.2" height="48.2" fill="#fff" stroke="#000" stroke-width="1.0" />
<rect x="398.2" y="178.2" width="10.2" height="98.6" fill="#000" stroke="#000" stroke-width="1.0" />
<rect x="459.1" y="255.1" width="10.2" height="21.7" fill="#fff" stroke="#000" stroke-width="1.0" />
<rect x="469.2" y="185.4" width="10.2" height="91.4" fill="#000" stroke="#000" stroke-width="1.0" />
<text x="327.2" y="292.5" font-size="8.6" text-anchor="middle" font-weight="normal" fill="#000" >pt 1</text>
<text x="362.8" y="292.5" font-size="8.6" text-anchor="middle" font-weight="normal" fill="#000" >pt 2</text>
<text x="398.2" y="292.5" font-size="8.6" text-anchor="middle" font-weight="normal" fill="#000" >pt 3</text>
<text x="469.2" y="292.5" font-size="8.6" text-anchor="middle" font-weight="normal" fill="#000" >pt 2</text>
<text x="380.5" y="311.8" font-size="8.6" text-anchor="middle" font-weight="normal" fill="#000" >24 hrs</text>
<text x="470" y="311.8" font-size="8.6" text-anchor="middle" font-weight="normal" fill="#000" >48 hrs</text>
<rect x="352.3" y="178.2" width="4.6" height="4.8" fill="#fff" stroke="#000" stroke-width="1.0" />
<rect x="352.3" y="190.5" width="4.6" height="5.4" fill="#000" stroke="#000" stroke-width="1.0" />
<text x="360" y="183.6" font-size="8.6" text-anchor="start" font-weight="normal" fill="#000" >vc</text>
<text x="360" y="196.2" font-size="8.6" text-anchor="start" font-weight="normal" fill="#000" >GSI</text>
<text x="1.8" y="348.8" font-size="11" text-anchor="start" font-weight="bold" fill="#000" >F</text>
<line x1="48.5" y1="345.6" x2="48.5" y2="458.9" stroke="#999" stroke-width="1" />
<line x1="48.5" y1="458.9" x2="246.79999999999998" y2="458.9" stroke="#999" stroke-width="1" />
<line x1="46.0" y1="458.9" x2="48.5" y2="458.9" stroke="#999" stroke-width="1" />
<text x="42.6" y="460.9" font-size="8.7" text-anchor="end" font-weight="normal" fill="#000" textLength="4.45" lengthAdjust="spacingAndGlyphs">0</text>
<line x1="46.0" y1="436.24" x2="48.5" y2="436.24" stroke="#999" stroke-width="1" />
<text x="42.6" y="438.2" font-size="8.7" text-anchor="end" font-weight="normal" fill="#000" textLength="8.90" lengthAdjust="spacingAndGlyphs">50</text>
<line x1="46.0" y1="413.58" x2="48.5" y2="413.58" stroke="#999" stroke-width="1" />
<text x="42.6" y="415.6" font-size="8.7" text-anchor="end" font-weight="normal" fill="#000" textLength="13.35" lengthAdjust="spacingAndGlyphs">100</text>
<line x1="46.0" y1="390.92" x2="48.5" y2="390.92" stroke="#999" stroke-width="1" />
<text x="42.6" y="392.9" font-size="8.7" text-anchor="end" font-weight="normal" fill="#000" textLength="13.35" lengthAdjust="spacingAndGlyphs">150</text>
<line x1="46.0" y1="368.26" x2="48.5" y2="368.26" stroke="#999" stroke-width="1" />
<text x="42.6" y="370.3" font-size="8.7" text-anchor="end" font-weight="normal" fill="#000" textLength="13.35" lengthAdjust="spacingAndGlyphs">200</text>
<line x1="46.0" y1="345.6" x2="48.5" y2="345.6" stroke="#999" stroke-width="1" />
<text x="42.6" y="347.6" font-size="8.7" text-anchor="end" font-weight="normal" fill="#000" textLength="13.35" lengthAdjust="spacingAndGlyphs">250</text>
<line x1="48.5" y1="458.9" x2="48.5" y2="460.9" stroke="#999" stroke-width="1" />
<line x1="81.5" y1="458.9" x2="81.5" y2="460.9" stroke="#999" stroke-width="1" />
<line x1="114.6" y1="458.9" x2="114.6" y2="460.9" stroke="#999" stroke-width="1" />
<line x1="147.6" y1="458.9" x2="147.6" y2="460.9" stroke="#999" stroke-width="1" />
<line x1="180.7" y1="458.9" x2="180.7" y2="460.9" stroke="#999" stroke-width="1" />
<line x1="213.8" y1="458.9" x2="213.8" y2="460.9" stroke="#999" stroke-width="1" />
<line x1="246.8" y1="458.9" x2="246.8" y2="460.9" stroke="#999" stroke-width="1" />
<text x="0" y="0" font-size="7.8" text-anchor="middle" textLength="107" lengthAdjust="spacingAndGlyphs" transform="translate(22.2,400.6) rotate(-90)">colonies/5000 CD34+ cells</text>
<rect x="55.2" y="380.5" width="9.8" height="78.4" fill="#fff" stroke="#000" stroke-width="1.0" />
<line x1="60.1" y1="372.3" x2="60.1" y2="388.7" stroke="#000" stroke-width="1.0" />
<line x1="57.1" y1="372.3" x2="63.1" y2="372.3" stroke="#000" stroke-width="1.0" />
<line x1="57.1" y1="388.7" x2="63.1" y2="388.7" stroke="#000" stroke-width="1.0" />
<rect x="65.0" y="373.7" width="9.8" height="85.2" fill="#000" stroke="#000" stroke-width="1.0" />
<line x1="69.9" y1="366.0" x2="69.9" y2="381.4" stroke="#000" stroke-width="1.0" />
<line x1="66.9" y1="366.0" x2="72.9" y2="366.0" stroke="#000" stroke-width="1.0" />
<line x1="66.9" y1="381.4" x2="72.9" y2="381.4" stroke="#000" stroke-width="1.0" />
<rect x="88.3" y="458.0" width="9.8" height="0.9" fill="#fff" stroke="#000" stroke-width="1.0" />
<rect x="98.1" y="457.5" width="9.8" height="1.4" fill="#000" stroke="#000" stroke-width="1.0" />
<rect x="121.3" y="458.0" width="9.8" height="0.9" fill="#fff" stroke="#000" stroke-width="1.0" />
<rect x="131.1" y="457.5" width="9.8" height="1.4" fill="#000" stroke="#000" stroke-width="1.0" />
<rect x="154.4" y="458.0" width="9.8" height="0.9" fill="#fff" stroke="#000" stroke-width="1.0" />
<rect x="164.2" y="457.5" width="9.8" height="1.4" fill="#000" stroke="#000" stroke-width="1.0" />
<rect x="187.4" y="447.6" width="9.8" height="11.3" fill="#fff" stroke="#000" stroke-width="1.0" />
<line x1="192.3" y1="446.7" x2="192.3" y2="448.5" stroke="#000" stroke-width="1.0" />
<line x1="189.3" y1="446.7" x2="195.3" y2="446.7" stroke="#000" stroke-width="1.0" />
<line x1="189.3" y1="448.5" x2="195.3" y2="448.5" stroke="#000" stroke-width="1.0" />
<rect x="197.2" y="444.9" width="9.8" height="14.0" fill="#000" stroke="#000" stroke-width="1.0" />
<line x1="202.1" y1="443.5" x2="202.1" y2="446.2" stroke="#000" stroke-width="1.0" />
<line x1="199.1" y1="443.5" x2="205.1" y2="443.5" stroke="#000" stroke-width="1.0" />
<line x1="199.1" y1="446.2" x2="205.1" y2="446.2" stroke="#000" stroke-width="1.0" />
<rect x="220.5" y="366.4" width="9.8" height="92.5" fill="#fff" stroke="#000" stroke-width="1.0" />
<line x1="225.4" y1="357.4" x2="225.4" y2="375.5" stroke="#000" stroke-width="1.0" />
<line x1="222.4" y1="357.4" x2="228.4" y2="357.4" stroke="#000" stroke-width="1.0" />
<line x1="222.4" y1="375.5" x2="228.4" y2="375.5" stroke="#000" stroke-width="1.0" />
<rect x="230.3" y="355.9" width="9.8" height="103.0" fill="#000" stroke="#000" stroke-width="1.0" />
<line x1="235.2" y1="346.4" x2="235.2" y2="365.4" stroke="#000" stroke-width="1.0" />
<line x1="232.2" y1="346.4" x2="238.2" y2="346.4" stroke="#000" stroke-width="1.0" />
<line x1="232.2" y1="365.4" x2="238.2" y2="365.4" stroke="#000" stroke-width="1.0" />
<text x="65.0" y="468.8" font-size="6.5" text-anchor="middle" font-weight="normal" fill="#000" >CFU-GM</text>
<text x="98.1" y="468.8" font-size="6.5" text-anchor="middle" font-weight="normal" fill="#000" >CFU-M</text>
<text x="131.1" y="468.8" font-size="6.5" text-anchor="middle" font-weight="normal" fill="#000" >CFU-</text>
<text x="131.1" y="478.8" font-size="6.5" text-anchor="middle" font-weight="normal" fill="#000" >GEMM</text>
<text x="164.2" y="468.8" font-size="6.5" text-anchor="middle" font-weight="normal" fill="#000" >CFU-E</text>
<text x="197.2" y="468.8" font-size="6.5" text-anchor="middle" font-weight="normal" fill="#000" >BFU-E</text>
<text x="230.3" y="468.8" font-size="6.5" text-anchor="middle" font-weight="normal" fill="#000" >TOTAL</text>
<rect x="135.3" y="343.6" width="4.8" height="5.5" fill="#fff" stroke="#000" stroke-width="1.0" />
<rect x="135.3" y="355" width="4.8" height="6" fill="#000" stroke="#000" stroke-width="1.0" />
<text x="143.1" y="348.8" font-size="8.4" text-anchor="start" font-weight="normal" fill="#000" >vc</text>
<text x="143.1" y="360.2" font-size="8.0" text-anchor="start" font-weight="normal" fill="#000" >GSI</text>
</svg>
</body></html>
